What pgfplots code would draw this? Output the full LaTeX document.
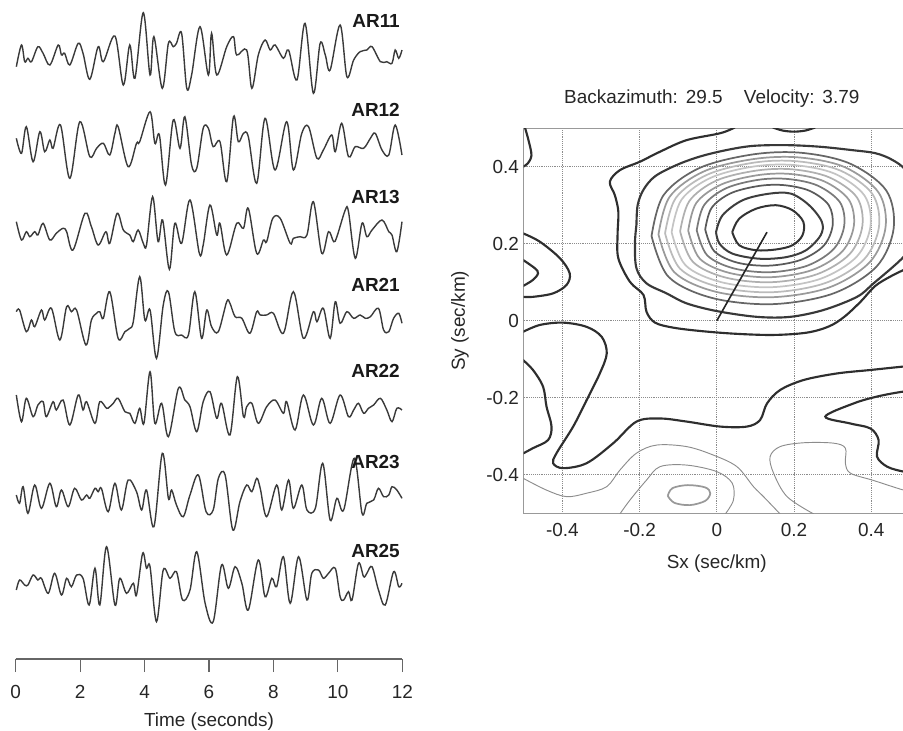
\documentclass[border=0pt]{standalone}
\usepackage{pgfplots}
\pgfplotsset{compat=1.18}
\usepackage{fontspec}
\setmainfont{Liberation Sans}
\newcommand{\fs}{\fontsize{14.2}{16}\selectfont}
\definecolor{tr}{HTML}{3A3A3A}
\definecolor{ca}{HTML}{333333}
\definecolor{cb}{HTML}{3D3D3D}
\definecolor{cc}{HTML}{5A5A5A}
\definecolor{cd}{HTML}{7A7A7A}
\definecolor{ce}{HTML}{999999}
\definecolor{cf}{HTML}{B0B0B0}
\definecolor{cg}{HTML}{C4C4C4}
\definecolor{ch}{HTML}{BBBBBB}
\definecolor{ci}{HTML}{9A9A9A}
\definecolor{cj}{HTML}{666666}
\definecolor{ck}{HTML}{383838}
\definecolor{cl}{HTML}{2E2E2E}
\pgfplotsset{
  trace/.style={color=tr, line width=1.05pt, smooth, tension=0.55, mark=none},
  dk/.style={color=cl, line width=1.6pt, smooth, tension=0.55, mark=none},
  rg/.style={color=#1, line width=1.3pt, smooth, tension=0.55, mark=none},
  th/.style={color=black!45, line width=0.7pt, smooth, tension=0.55, mark=none},
}
\begin{document}
\begin{tikzpicture}[font=\fs]
% ---------------- left: traces ----------------
\begin{axis}[
  at={(11.775pt,0pt)}, anchor=north west,
  scale only axis, width=289.95pt, height=494.25pt,
  xmin=0, xmax=12, ymin=-659, ymax=0,
  axis x line*=bottom, axis y line=none,
  xtick={0,2,4,6,8,10,12},
  xtick align=outside, major tick length=9.75pt,
  x axis line style={color=black!60, line width=0.9pt},
  xtick style={color=black!60, line width=0.9pt},
  xticklabel style={font=\fs, text=black!85, yshift=-6.5pt},
  /pgf/number format/assume math mode=true,
  clip=false,
]
\addplot[trace] coordinates {(0.02,-66.7) (0.18,-45) (0.28,-61.7) (0.38,-58.3) (0.49,-61.7) (0.69,-46.7) (0.85,-53.3) (1.06,-65) (1.32,-45) (1.42,-55) (1.52,-53.3) (1.68,-65) (1.94,-43.3) (2.09,-53.3) (2.30,-79.3) (2.56,-46.7) (2.72,-61.7) (3.08,-36) (3.34,-85) (3.54,-45) (3.70,-78.3) (3.96,-12.7) (4.17,-75) (4.29,-36.7) (4.55,-88.3) (4.74,-43.3) (4.89,-46.7) (4.99,-43.3) (5.15,-33.3) (5.31,-88.3) (5.46,-75) (5.72,-26.7) (5.98,-75) (6.08,-33.3) (6.24,-75) (6.55,-46.7) (6.76,-36.7) (6.86,-55) (7.17,-50) (7.33,-88.3) (7.53,-55) (7.74,-40) (7.90,-50) (8.05,-45) (8.31,-58.3) (8.47,-50) (8.73,-80) (8.98,-23.3) (9.24,-93.3) (9.45,-43.3) (9.61,-55) (9.76,-70) (10.07,-25) (10.28,-76.7) (10.49,-60) (10.69,-51.7) (10.90,-50) (11.06,-46.7) (11.32,-61.7) (11.52,-61.7) (11.68,-63.3) (11.78,-50) (11.89,-58.3) (11.99,-50)};
\addplot[trace] coordinates {(0.02,-138.3) (0.18,-153.3) (0.33,-126.7) (0.54,-161.7) (0.75,-131.7) (0.90,-151.7) (1.06,-140) (1.16,-148.3) (1.39,-125) (1.68,-178.3) (1.99,-121.7) (2.30,-156.7) (2.51,-148.3) (2.72,-143.3) (2.92,-155) (3.08,-133.3) (3.18,-126.7) (3.49,-166.7) (3.75,-143.3) (3.85,-141.7) (4.17,-111.7) (4.32,-143.3) (4.46,-135) (4.65,-185) (4.89,-120) (5.10,-148.3) (5.25,-116.7) (5.46,-165) (5.62,-168.3) (5.82,-128.3) (5.98,-128.3) (6.13,-146.7) (6.34,-141.7) (6.55,-181.7) (6.76,-116.7) (6.91,-141.7) (7.07,-133.3) (7.22,-136.7) (7.48,-183.3) (7.74,-118.3) (8.05,-170) (8.41,-121.7) (8.62,-170) (8.88,-133.3) (9.09,-126.7) (9.35,-158.3) (9.55,-150) (9.81,-135) (9.92,-151.7) (10.12,-123.3) (10.33,-156.7) (10.54,-146.7) (10.80,-148.3) (11.01,-138.3) (11.16,-133.3) (11.37,-150) (11.58,-155) (11.78,-125) (11.99,-155)};
\addplot[trace] coordinates {(0.02,-221.7) (0.18,-240) (0.33,-231.7) (0.44,-236.7) (0.59,-231.7) (0.69,-235) (0.85,-223.3) (1.06,-240) (1.26,-233.3) (1.47,-228.3) (1.58,-231.7) (1.78,-250) (2.15,-213.3) (2.35,-226.7) (2.56,-245) (2.80,-231.7) (2.92,-243.3) (3.15,-213.3) (3.34,-230) (3.54,-235) (3.65,-241.7) (3.80,-230) (3.96,-243.3) (4.06,-245) (4.25,-196.7) (4.42,-241.7) (4.56,-220) (4.77,-269.3) (4.94,-223.3) (5.15,-243.3) (5.41,-200) (5.70,-253.3) (5.82,-245) (6.03,-205) (6.24,-235) (6.34,-223.3) (6.55,-255) (6.86,-223.3) (7.07,-228.3) (7.22,-208.3) (7.48,-253.3) (7.69,-240) (7.79,-241.7) (7.98,-218.3) (8.21,-218.3) (8.52,-243.3) (8.62,-238.3) (8.83,-236.7) (9.04,-235) (9.24,-201.7) (9.50,-253.3) (9.71,-231.7) (9.87,-241.7) (9.97,-236.7) (10.23,-210) (10.33,-211.7) (10.54,-258.3) (10.75,-223.3) (10.90,-236.7) (11.06,-230) (11.37,-220) (11.58,-231.7) (11.68,-235) (11.83,-251.7) (11.99,-221.7)};
\addplot[trace] coordinates {(0.02,-311.7) (0.12,-310) (0.33,-331.7) (0.49,-320) (0.59,-326.7) (0.80,-310) (0.90,-320) (1.11,-308.3) (1.37,-340) (1.58,-306.7) (1.73,-311.7) (1.89,-310) (2.18,-345) (2.35,-320) (2.51,-313.3) (2.61,-311.7) (2.72,-318.3) (2.92,-291.7) (3.18,-338.3) (3.39,-331.7) (3.54,-328.3) (3.65,-321.7) (3.85,-276.7) (4.01,-320) (4.17,-310) (4.37,-358.3) (4.58,-305) (4.74,-291.7) (4.94,-331.7) (5.15,-335) (5.36,-335) (5.56,-291.7) (5.77,-338.3) (5.93,-310) (6.08,-326.7) (6.29,-331.7) (6.55,-301.7) (6.65,-303.3) (6.81,-316.7) (7.02,-318.3) (7.27,-333.3) (7.48,-311.7) (7.59,-315) (7.79,-315) (8.00,-313.3) (8.31,-333.3) (8.62,-291.7) (8.93,-338.3) (9.24,-311.7) (9.35,-321.7) (9.55,-308.3) (9.76,-338.3) (9.92,-301.7) (10.07,-323.3) (10.28,-311.7) (10.49,-318.3) (10.69,-315) (10.85,-318.3) (11.01,-316.7) (11.26,-308.3) (11.42,-330) (11.58,-331.7) (11.73,-318.3) (11.89,-313.3) (11.99,-323.3)};
\addplot[trace] coordinates {(0.02,-395) (0.18,-421.7) (0.33,-398.3) (0.54,-416.7) (0.69,-405) (0.85,-401.7) (0.95,-416.7) (1.16,-401.7) (1.26,-410) (1.47,-400) (1.68,-425) (1.94,-395) (2.09,-410) (2.20,-401.7) (2.46,-423.3) (2.61,-401.7) (2.82,-408.3) (2.92,-406.7) (3.03,-403.3) (3.18,-398.3) (3.39,-411.7) (3.54,-413.3) (3.70,-423.3) (3.85,-408.3) (3.98,-423.3) (4.17,-371.7) (4.32,-423.3) (4.53,-403.3) (4.74,-436.7) (5.05,-388.3) (5.25,-400) (5.41,-406.7) (5.62,-431.7) (5.82,-401.7) (6.03,-391.7) (6.24,-418.3) (6.39,-403.3) (6.65,-435) (6.88,-376.7) (7.07,-416.7) (7.17,-406.7) (7.33,-403.3) (7.53,-423.3) (7.79,-406.7) (8.05,-400) (8.31,-413.3) (8.41,-401.7) (8.67,-430) (8.93,-395) (9.24,-425) (9.50,-398.3) (9.76,-423.3) (10.07,-395) (10.33,-416.7) (10.49,-410) (10.64,-403.3) (10.80,-413.3) (10.95,-408.3) (11.11,-405) (11.32,-398.3) (11.52,-410) (11.68,-421.7) (11.83,-408.3) (11.99,-410)};
\addplot[trace] coordinates {(0.02,-495) (0.12,-503.3) (0.23,-486.7) (0.38,-513.3) (0.59,-485) (0.80,-508.3) (1.06,-483.3) (1.26,-506.7) (1.42,-490) (1.63,-506.7) (1.83,-488.3) (2.04,-500) (2.20,-495) (2.30,-498.3) (2.46,-488.3) (2.56,-491.7) (2.66,-488.3) (2.87,-511.7) (3.08,-483.3) (3.28,-510) (3.49,-480) (3.75,-491.7) (3.91,-510) (4.06,-490) (4.29,-526.7) (4.55,-453.3) (4.74,-498.3) (4.84,-490) (4.99,-505) (5.20,-516.7) (5.41,-495) (5.67,-475) (5.91,-511.7) (6.13,-510) (6.29,-478.3) (6.50,-475) (6.74,-530) (6.96,-501.7) (7.17,-485) (7.33,-491.7) (7.48,-478.3) (7.59,-488.3) (7.79,-516.7) (8.10,-485) (8.26,-510) (8.47,-480) (8.62,-508.3) (8.88,-485) (9.04,-510) (9.30,-508.3) (9.53,-463.3) (9.76,-520) (9.97,-498.3) (10.18,-510) (10.51,-458.3) (10.75,-513.3) (10.90,-503.3) (11.11,-500) (11.26,-488.3) (11.42,-496.7) (11.58,-495) (11.68,-486.7) (11.83,-490) (11.99,-498.3)};
\addplot[trace] coordinates {(0.02,-590) (0.12,-580) (0.28,-585) (0.38,-585) (0.54,-575) (0.69,-580) (0.80,-578.3) (1.01,-593.3) (1.21,-573.3) (1.42,-595) (1.58,-578.3) (1.73,-586.7) (1.89,-575) (2.09,-578.3) (2.28,-605) (2.46,-568.3) (2.61,-605) (2.82,-546.7) (3.08,-605) (3.23,-578.3) (3.44,-593.3) (3.65,-583.3) (3.75,-595) (3.94,-553.3) (4.06,-568.3) (4.17,-566.7) (4.37,-621.7) (4.58,-570) (4.79,-578.3) (4.99,-571.7) (5.18,-600) (5.41,-590) (5.62,-551.7) (5.88,-603.3) (6.13,-621.7) (6.39,-565) (6.60,-588.3) (6.81,-566.7) (7.02,-583.3) (7.22,-610) (7.53,-560) (7.74,-596.7) (7.95,-578.3) (8.10,-586.7) (8.31,-556.7) (8.52,-603.3) (8.78,-556.7) (9.04,-600) (9.19,-573.3) (9.40,-570) (9.55,-578.3) (9.71,-573.3) (9.92,-568.3) (10.07,-596.7) (10.18,-600) (10.33,-591.7) (10.44,-600) (10.64,-563.3) (10.80,-576.7) (10.90,-573.3) (11.06,-566.7) (11.26,-590) (11.47,-605) (11.73,-571.7) (11.89,-586.7) (11.99,-583.3)};
\node[anchor=east, inner sep=0pt, font=\fs\bfseries, text=black!90] at (axis cs:11.93,-21) {AR11};
\node[anchor=east, inner sep=0pt, font=\fs\bfseries, text=black!90] at (axis cs:11.93,-110) {AR12};
\node[anchor=east, inner sep=0pt, font=\fs\bfseries, text=black!90] at (axis cs:11.93,-197) {AR13};
\node[anchor=east, inner sep=0pt, font=\fs\bfseries, text=black!90] at (axis cs:11.93,-285) {AR21};
\node[anchor=east, inner sep=0pt, font=\fs\bfseries, text=black!90] at (axis cs:11.93,-371) {AR22};
\node[anchor=east, inner sep=0pt, font=\fs\bfseries, text=black!90] at (axis cs:11.93,-462) {AR23};
\node[anchor=east, inner sep=0pt, font=\fs\bfseries, text=black!90] at (axis cs:11.93,-551) {AR25};
\node[font=\fs, text=black!85] at (axis cs:6,-722) {Time (seconds)};
\end{axis}
% ---------------- right: slowness contours ----------------
\begin{axis}[
  at={(392.8pt,-96.15pt)}, anchor=north west,
  scale only axis, width=289.6pt, height=288.75pt,
  xmin=-0.5, xmax=0.5, ymin=-0.5, ymax=0.5,
  xtick={-0.4,-0.2,0,0.2,0.4}, ytick={-0.4,-0.2,0,0.2,0.4},
  major tick length=0pt,
  grid=major, major grid style={densely dotted, color=black!45, line width=0.6pt},
  axis line style={color=black!40, line width=0.8pt},
  tick label style={font=\fs, text=black!85},
  /pgf/number format/assume math mode=true,
  xticklabel style={yshift=-4pt},
  title={Backazimuth:\hspace{6pt}29.5\hspace{16pt}Velocity:\hspace{6pt}3.79},
  title style={at={(axis description cs:0.487,1.057)}, anchor=center, font=\fs, text=black!85},
  xlabel={Sx (sec/km)},
  xlabel style={at={(axis description cs:0.5,-0.13)}, anchor=center, font=\fs, text=black!85},
  ylabel={Sy (sec/km)},
  ylabel style={at={(axis description cs:-0.165,0.5)}, anchor=center, font=\fs, text=black!85},
]
% outer and side contours
\addplot[dk] coordinates {(0.047,0.502) (0.009,0.487) (-0.078,0.469) (-0.147,0.439) (-0.199,0.413) (-0.251,0.391) (-0.277,0.361) (-0.264,0.326) (-0.255,0.283) (-0.257,0.223) (-0.255,0.162) (-0.225,0.101) (-0.19,0.067) (-0.182,0.023) (-0.16,-0.005) (-0.113,-0.018) (-0.04,-0.027) (0.05,-0.034) (0.147,-0.037) (0.233,-0.031) (0.290,-0.015) (0.330,0.010) (0.372,0.049) (0.41,0.09) (0.45,0.115) (0.484,0.132) (0.52,0.15)};
\addplot[dk] coordinates {(-0.497,0.502) (-0.488,0.47) (-0.48,0.43) (-0.49,0.408) (-0.502,0.40)};
\addplot[dk] coordinates {(0.145,0.502) (0.17,0.494) (0.2,0.491) (0.23,0.494) (0.255,0.502)};
\addplot[dk] coordinates {(-0.502,0.227) (-0.458,0.205) (-0.406,0.162) (-0.381,0.123) (-0.389,0.093) (-0.424,0.071) (-0.476,0.062) (-0.502,0.062)};
\addplot[dk] coordinates {(-0.502,0.158) (-0.471,0.136) (-0.463,0.123) (-0.476,0.106) (-0.502,0.09)};
\addplot[dk] coordinates {(-0.502,-0.029) (-0.458,-0.011) (-0.398,-0.005) (-0.337,-0.016) (-0.298,-0.042) (-0.285,-0.085) (-0.303,-0.137) (-0.337,-0.206) (-0.372,-0.275) (-0.415,-0.344) (-0.424,-0.370) (-0.398,-0.383) (-0.337,-0.370) (-0.268,-0.318) (-0.208,-0.262) (-0.147,-0.254) (-0.078,-0.262) (0.009,-0.275) (0.078,-0.275) (0.112,-0.258) (0.130,-0.215) (0.164,-0.180) (0.225,-0.154) (0.311,-0.137) (0.398,-0.128) (0.484,-0.119) (0.52,-0.116)};
\addplot[dk] coordinates {(-0.502,-0.102) (-0.476,-0.128) (-0.450,-0.171) (-0.441,-0.223) (-0.428,-0.275) (-0.437,-0.310) (-0.476,-0.331) (-0.502,-0.345)};
\addplot[dk] coordinates {(0.52,-0.183) (0.484,-0.184) (0.415,-0.197) (0.354,-0.215) (0.281,-0.249) (0.346,-0.267) (0.398,-0.280) (0.419,-0.310) (0.415,-0.353) (0.441,-0.379) (0.484,-0.392) (0.52,-0.395)};
\addplot[th] coordinates {(-0.502,-0.409) (-0.441,-0.440) (-0.389,-0.457) (-0.337,-0.448) (-0.285,-0.431) (-0.251,-0.388) (-0.208,-0.344) (-0.156,-0.323) (-0.078,-0.327) (-0.009,-0.349) (0.052,-0.379) (0.095,-0.431) (0.121,-0.457) (0.164,-0.502)};
\addplot[th] coordinates {(-0.251,-0.502) (-0.225,-0.466) (-0.182,-0.414) (-0.147,-0.379) (-0.078,-0.375) (0,-0.392) (0.04,-0.422) (0.043,-0.466) (0.022,-0.502)};
\addplot[th] coordinates {(0.251,-0.502) (0.182,-0.457) (0.147,-0.396) (0.138,-0.353) (0.164,-0.327) (0.225,-0.317) (0.302,-0.318) (0.333,-0.331) (0.333,-0.370) (0.346,-0.396) (0.406,-0.415) (0.484,-0.44) (0.52,-0.447)};
\addplot[rg=black!40] coordinates {(-0.127,-0.455) (-0.115,-0.435) (-0.075,-0.427) (-0.03,-0.433) (-0.017,-0.448) (-0.03,-0.468) (-0.07,-0.479) (-0.11,-0.473) (-0.127,-0.455)};
% concentric rings around the maximum
\addplot[dk, color=ck] coordinates {(-0.208,0.25) (-0.205,0.30) (-0.19,0.34) (-0.16,0.375) (-0.105,0.404) (-0.045,0.426) (0.024,0.443) (0.093,0.454) (0.179,0.456) (0.265,0.452) (0.351,0.443) (0.411,0.435) (0.454,0.418) (0.49,0.39) (0.52,0.33) (0.52,0.22) (0.484,0.166) (0.406,0.097) (0.363,0.062) (0.277,0.028) (0.19,0.010) (0.104,0.010) (0.0,0.025) (-0.078,0.045) (-0.13,0.071) (-0.182,0.097) (-0.208,0.136) (-0.212,0.2) (-0.208,0.25)};
\addplot[rg=cj] coordinates {(-0.169,0.220) (-0.138,0.326) (-0.044,0.397) (0.094,0.432) (0.220,0.436) (0.345,0.408) (0.439,0.338) (0.458,0.2395) (0.414,0.141) (0.301,0.0705) (0.1445,0.043) (-0.012,0.059) (-0.125,0.114) (-0.169,0.220)};
\addplot[rg=ci] coordinates {(-0.151,0.224) (-0.122,0.322) (-0.033,0.388) (0.096,0.420) (0.214,0.424) (0.331,0.399) (0.419,0.333) (0.437,0.2425) (0.396,0.152) (0.290,0.086) (0.143,0.061) (-0.004,0.0755) (-0.110,0.126) (-0.151,0.224)};
\addplot[rg=ch] coordinates {(-0.134,0.227) (-0.106,0.319) (-0.023,0.380) (0.099,0.411) (0.209,0.414) (0.320,0.390) (0.403,0.329) (0.420,0.244) (0.381,0.159) (0.2815,0.098) (0.143,0.074) (0.0045,0.088) (-0.095,0.135) (-0.134,0.227)};
\addplot[rg=cg] coordinates {(-0.117,0.230) (-0.091,0.315) (-0.014,0.372) (0.099,0.401) (0.202,0.404) (0.305,0.382) (0.3825,0.325) (0.398,0.2455) (0.362,0.166) (0.269,0.109) (0.1405,0.087) (0.012,0.100) (-0.081,0.144) (-0.117,0.230)};
\addplot[rg=cf] coordinates {(-0.095,0.232) (-0.071,0.311) (-0.001,0.364) (0.103,0.390) (0.198,0.393) (0.292,0.372) (0.363,0.320) (0.377,0.2465) (0.344,0.173) (0.259,0.1205) (0.141,0.100) (0.023,0.112) (-0.062,0.153) (-0.095,0.232)};
\addplot[rg=ce] coordinates {(-0.074,0.234) (-0.053,0.306) (0.012,0.354) (0.106,0.378) (0.192,0.381) (0.278,0.362) (0.342,0.314) (0.355,0.247) (0.325,0.180) (0.248,0.132) (0.1405,0.113) (0.033,0.124) (-0.044,0.161) (-0.074,0.234)};
\addplot[rg=cd] coordinates {(-0.052,0.235) (-0.033,0.300) (0.024,0.344) (0.108,0.366) (0.185,0.368) (0.261,0.351) (0.319,0.3075) (0.330,0.247) (0.303,0.1865) (0.2345,0.143) (0.139,0.126) (0.0435,0.136) (-0.025,0.170) (-0.052,0.235)};
\addplot[rg=cc] coordinates {(-0.030,0.237) (-0.0135,0.293) (0.036,0.331) (0.109,0.350) (0.175,0.352) (0.241,0.337) (0.290,0.300) (0.300,0.2475) (0.277,0.195) (0.2175,0.158) (0.135,0.143) (0.0525,0.151) (-0.007,0.181) (-0.030,0.237)};
\addplot[rg=cb, line width=1.5pt] coordinates {(-0.002,0.230) (0.015,0.274) (0.067,0.313) (0.136,0.330) (0.192,0.330) (0.239,0.300) (0.272,0.257) (0.269,0.222) (0.231,0.183) (0.179,0.165) (0.110,0.161) (0.041,0.174) (0.007,0.200) (-0.002,0.230)};
\addplot[rg=ca, line width=1.5pt] coordinates {(0.040,0.230) (0.058,0.265) (0.102,0.291) (0.153,0.300) (0.196,0.287) (0.224,0.257) (0.222,0.222) (0.196,0.196) (0.153,0.185) (0.102,0.183) (0.058,0.196) (0.040,0.230)};
% backazimuth / slowness vector
\addplot[color=black!85, line width=1.2pt, mark=none] coordinates {(0,0) (0.130,0.230)};
\end{axis}
\pgfresetboundingbox
\path[use as bounding box] (0pt,0pt) rectangle (677.25pt,-548.25pt);
\end{tikzpicture}
\end{document}
